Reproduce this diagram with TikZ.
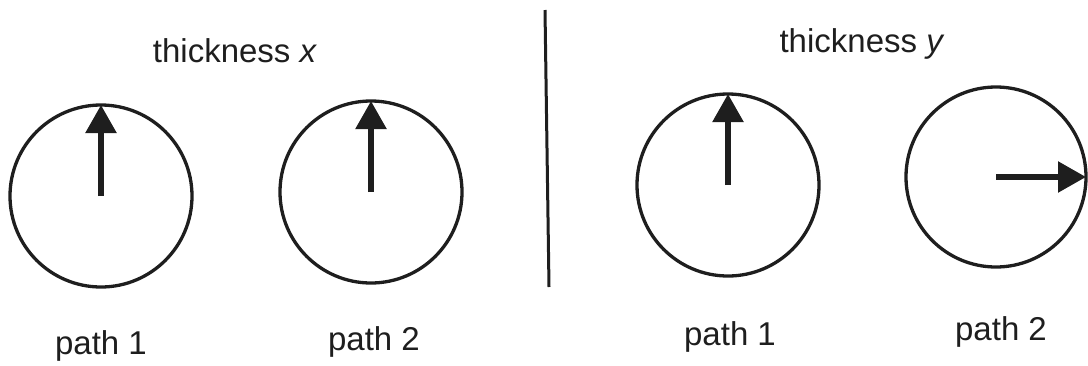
\documentclass[tikz,border=0pt]{standalone}
\usepackage{fontspec}
\setmainfont{Liberation Sans}
\usetikzlibrary{arrows.meta}
\definecolor{ink}{HTML}{1E1E1E}
\tikzset{
  wheel/.style={circle, draw=ink, line width=3.3pt, minimum size=182pt, inner sep=0pt, outer sep=0pt},
  pointer/.style={draw=ink, line width=5.5pt, -{Triangle[length=28pt,width=30pt]}},
  lbl/.style={anchor=base, font=\fontsize{33}{38}\selectfont, text=ink, inner sep=0pt},
}
\begin{document}
\begin{tikzpicture}[x=1pt,y=-1pt]
\useasboundingbox (0,0) rectangle (1088,365);
\node[wheel] (c1) at (101,196) {};
\node[wheel] (c2) at (371,192) {};
\node[wheel] (c3) at (728,185) {};
\node[wheel, minimum size=180pt] (c4) at (996,177) {};
\draw[pointer] (c1.center) -- (c1.north);
\draw[pointer] (c2.center) -- (c2.north);
\draw[pointer] (c3.center) -- (c3.north);
\draw[pointer] (c4.center) -- (c4.east);
\coordinate (sTop) at (545,10);
\coordinate (sBot) at (549,287);
\draw[ink, line width=3pt] (sTop) -- (sBot);
\node[lbl] (tx) at (235,62) {thickness \textit{x}};
\node[lbl] (ty) at (862,52) {thickness \textit{y}};
\node[lbl] (p1) at (101,354) {path 1};
\node[lbl] (p2) at (374,350) {path 2};
\node[lbl] (p3) at (730,345) {path 1};
\node[lbl] (p4) at (1001,340) {path 2};
\end{tikzpicture}
\end{document}
